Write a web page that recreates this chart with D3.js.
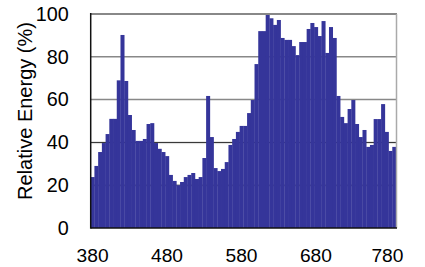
<!DOCTYPE html>
<html><head><meta charset="utf-8">
<script src="https://cdn.jsdelivr.net/npm/d3@7"></script>
<style>body{margin:0;background:#fff}svg{display:block}text{font-family:"Liberation Sans",Arial,sans-serif}</style>
</head><body><svg id="c" width="425" height="267"></svg>
<script>
const wavelengths = d3.range(380, 790, 5);
const energy = [23.8,29,35.5,39.7,43.9,51,51,69,90.2,68.7,
52.8,45.8,40.7,40.7,41.6,48.6,49,39.7,37,35.5,
33.6,24.8,22,20,21.5,23.8,24.8,25.7,22.9,23.8,
32.7,61.7,42.5,28,26.6,27.6,30.8,38.8,41.6,44.9,
47.7,47.7,53.7,59.8,76.6,92,92,100,98,94.9,
97.2,88.8,87.9,87.9,85,80.8,86.9,86.9,93,95.8,
93.9,89.7,96.7,81.8,93.9,88.8,61.7,51.9,49,55.6,
59.8,48.6,42.5,45.8,37.9,38.8,50.9,50.9,57.9,44.9,
36,37.9];
const xTicks = [380,480,580,680,780];
const yTicks = [0,20,40,60,80,100];
const yTitle = "Relative Energy (%)";

const svg = d3.select("#c");
const L=90.7, R=396, T=14, B=228;
const x = d3.scaleBand().domain(wavelengths).range([L,R]).padding(0);
const y = d3.scaleLinear().domain([0,100]).range([B,T]);

// gridlines
svg.append("g").selectAll("line").data([20,40,60,80]).join("line")
  .attr("x1",L).attr("x2",R).attr("y1",d=>y(d)).attr("y2",d=>y(d))
  .attr("stroke",d=>d<=40?"#222":"#888").attr("stroke-width",d=>d<=40?1:1.5);
svg.append("g").selectAll("line").data([20,40]).join("line")
  .attr("x1",L).attr("x2",R).attr("y1",d=>y(d)+1.2).attr("y2",d=>y(d)+1.2)
  .attr("stroke","#ddd").attr("stroke-width",1);

// bars
svg.append("g").selectAll("rect").data(wavelengths).join("rect")
  .attr("x",d=>x(d)).attr("width",x.bandwidth()+0.3)
  .attr("y",(d,i)=>y(energy[i])).attr("height",(d,i)=>B-y(energy[i]))
  .attr("fill","#35359a");

// frame
svg.append("line").attr("x1",L).attr("x2",R+1).attr("y1",T).attr("y2",T).attr("stroke","#888").attr("stroke-width",2);
svg.append("line").attr("x1",R+0.5).attr("x2",R+0.5).attr("y1",T).attr("y2",B).attr("stroke","#aaa").attr("stroke-width",1.5);
svg.append("line").attr("x1",L).attr("x2",R+1).attr("y1",B).attr("y2",B).attr("stroke","#111").attr("stroke-width",1.5);
svg.append("line").attr("x1",L).attr("x2",L).attr("y1",T-1).attr("y2",B+0.7).attr("stroke","#111").attr("stroke-width",1.5);

// y axis labels
const ya = svg.append("g").attr("transform",`translate(${L},0)`)
  .call(d3.axisLeft(y).tickValues(yTicks).tickSize(0).tickPadding(22));
ya.select(".domain").remove();
ya.selectAll("text").attr("font-size",19.8).attr("fill","#000").style("font-family","'Liberation Sans',Arial,sans-serif");

// x axis labels
const xa = svg.append("g").attr("transform",`translate(0,${B})`)
  .call(d3.axisBottom(x).tickValues(xTicks).tickSize(0).tickPadding(20));
xa.select(".domain").remove();
xa.selectAll("text").attr("font-size",19.2).attr("fill","#000").style("font-family","'Liberation Sans',Arial,sans-serif")
  .attr("dx",d=>d===780?-3:0);

svg.append("text").attr("transform",`translate(32,111) rotate(-90)`)
  .attr("text-anchor","middle").attr("font-size",20).attr("fill","#000").text(yTitle);
</script></body></html>
